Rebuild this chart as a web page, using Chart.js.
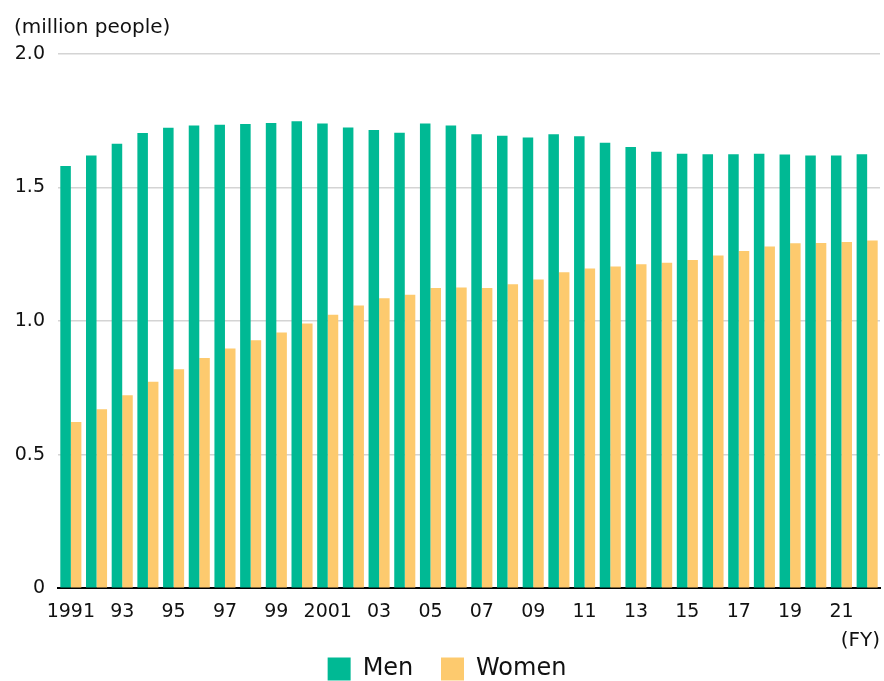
<!DOCTYPE html>
<html>
<head>
<meta charset="utf-8">
<script src="https://cdn.jsdelivr.net/npm/chart.js@4"></script>
<style>
  html, body { margin: 0; padding: 0; background: #fff; }
  #wrap { width: 884px; height: 681px; }
</style>
</head>
<body>
<div id="wrap"><canvas id="myChart"></canvas></div>
<script>
// fiscal years 1991 - 2022
let years = ["1991", "1992", "1993", "1994", "1995", "1996", "1997", "1998", "1999", "2000",
    "2001", "2002", "2003", "2004", "2005", "2006", "2007", "2008", "2009", "2010",
    "2011", "2012", "2013", "2014", "2015", "2016", "2017", "2018", "2019", "2020",
    "2021", "2022"];
// what is printed under the axis (every other year)
let tickLabels = ["1991", "", "93", "", "95", "", "97", "", "99", "", "2001", "", "03", "", "05", "",
    "07", "", "09", "", "11", "", "13", "", "15", "", "17", "", "19", "", "21", ""];
let men = [1.581, 1.620, 1.664, 1.704, 1.724, 1.732, 1.735, 1.738, 1.742, 1.748,
    1.740, 1.725, 1.715, 1.705, 1.740, 1.732, 1.700, 1.694, 1.687, 1.700,
    1.692, 1.668, 1.652, 1.634, 1.627, 1.625, 1.625, 1.627, 1.624, 1.620,
    1.620, 1.625];
let women = [0.622, 0.670, 0.722, 0.773, 0.820, 0.862, 0.897, 0.928, 0.957, 0.991,
    1.024, 1.058, 1.086, 1.099, 1.124, 1.126, 1.124, 1.138, 1.156, 1.183,
    1.197, 1.204, 1.213, 1.218, 1.229, 1.246, 1.262, 1.279, 1.291, 1.292,
    1.296, 1.302];

let font = "'DejaVu Sans', sans-serif";
Chart.defaults.font.family = font;
Chart.defaults.color = "#111";

let ctx = document.getElementById("myChart").getContext("2d");
let chart = new Chart(ctx, {
    type: "bar",
    data: {
        labels: years,
        datasets: [{
            label: "Men",
            data: men,
            backgroundColor: "#00b994",
            borderWidth: 0,
            categoryPercentage: 0.82,
            barPercentage: 1.0
        }, {
            label: "Women",
            data: women,
            backgroundColor: "#fdca6e",
            borderWidth: 0,
            categoryPercentage: 0.82,
            barPercentage: 1.0
        }]
    },
    options: {
        responsive: true,
        maintainAspectRatio: false,
        animation: false,
        layout: { padding: { left: 14, right: 4, top: 0, bottom: 0 } },
        plugins: {
            title: {
                display: true,
                text: "(million people)",
                align: "start",
                font: { size: 20, weight: "normal" },
                padding: { top: 16, bottom: 14 }
            },
            legend: {
                position: "bottom",
                maxHeight: 24,
                labels: {
                    boxWidth: 23,
                    boxHeight: 23,
                    padding: 0,
                    font: { size: 24 },
                    useBorderRadius: false,
                    generateLabels: function (c) {
                        let items = Chart.defaults.plugins.legend.labels.generateLabels(c);
                        // gap between the two legend entries
                        items[0].text += "   \u2009";
                        return items;
                    }
                }
            },
            tooltip: { enabled: false }
        },
        scales: {
            x: {
                grid: { display: false, drawTicks: false },
                border: { display: true, color: "#000", width: 2 },
                ticks: {
                    autoSkip: false,
                    maxRotation: 0,
                    font: { size: 19 },
                    padding: 12,
                    callback: function (value, index) { return tickLabels[index]; }
                },
                title: {
                    display: true,
                    text: "(FY)",
                    align: "end",
                    font: { size: 20 },
                    padding: { top: -6, bottom: 4 }
                }
            },
            y: {
                min: 0,
                max: 2.0,
                grid: { color: "#d4d4d4", lineWidth: 1.5, drawTicks: false },
                border: { display: false },
                afterFit: function (scale) { scale.width = 44; },
                ticks: {
                    stepSize: 0.5,
                    font: { size: 19 },
                    padding: 13,
                    callback: function (value) { return value === 0 ? "0" : value.toFixed(1); }
                }
            }
        }
    }
});
</script>
</body>
</html>
